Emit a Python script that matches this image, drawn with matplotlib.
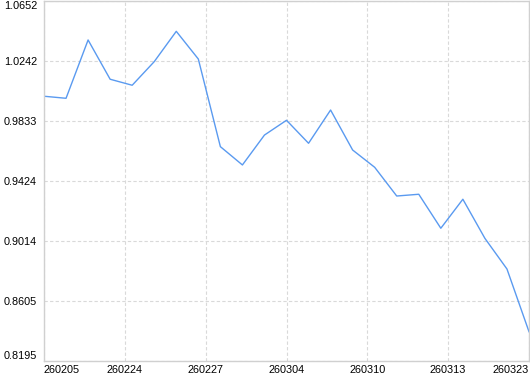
import matplotlib
matplotlib.use("Agg")
import matplotlib.pyplot as plt
import numpy as np

values = [1.0002, 0.9988, 1.0386, 1.0118, 1.0077, 1.0238, 1.0445, 1.0256,
          0.9658, 0.9533, 0.9737, 0.9838, 0.9681, 0.9908, 0.9635, 0.9517,
          0.9321, 0.9333, 0.9101, 0.9299, 0.9032, 0.8823, 0.8395]
x_labels = ["260205", "260224", "260227", "260304", "260310", "260313", "260323"]
y_ticks = [0.8195, 0.8605, 0.9014, 0.9424, 0.9833, 1.0242, 1.0652]

plt.rcParams['font.family'] = ['Liberation Sans', 'DejaVu Sans']

W, H = 530, 374
fig = plt.figure(figsize=(W / 100, H / 100), dpi=100)
ax = fig.add_axes([44 / W, (H - 361) / H, (529 - 44) / W, (361 - 1) / H])

n = len(values)
x = np.arange(n)
ax.plot(x, values, color='#5a9af0', linewidth=1.0)

ax.set_xlim(0, n - 1)
ax.set_ylim(y_ticks[0], y_ticks[-1])

xt = np.linspace(0, n - 1, len(x_labels))
ax.set_xticks(xt)
ax.set_xticklabels(x_labels)
ax.set_yticks(y_ticks)
ax.set_yticklabels([f"{v:.4f}" for v in y_ticks])

ax.grid(True, color='#d9d9d9', linestyle=(0, (3, 2)), linewidth=0.8)
ax.set_axisbelow(True)
for s in ax.spines.values():
    s.set_color('#d0d0d0')
    s.set_linewidth(1.0)

ax.tick_params(axis='both', length=0, labelsize=7.8, colors='#000000')
ax.tick_params(axis='y', pad=5)
ax.tick_params(axis='x', pad=3)

xl = ax.get_xticklabels()
xl[0].set_ha('left')
xl[-1].set_ha('right')
yl = ax.get_yticklabels()
yl[0].set_va('bottom')
yl[-1].set_va('top')
for t in yl[1:-1]:
    t.set_va('center_baseline')

fig.savefig('out.png', dpi=100, facecolor='white')
